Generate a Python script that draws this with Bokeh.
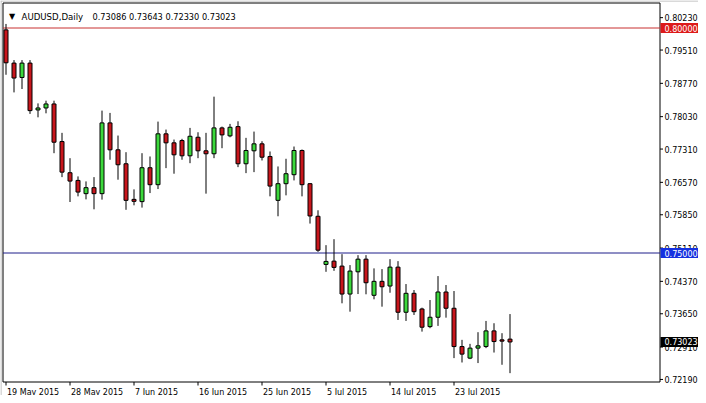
import pandas as pd
from bokeh.plotting import figure
from bokeh.models import Range1d, ColumnDataSource
from bokeh.core.properties import value
from bokeh.embed import file_html
from bokeh.resources import INLINE

symbol = "AUDUSD,Daily"

opens = [0.79958, 0.79220, 0.78901, 0.79220, 0.78179, 0.78223, 0.78312, 0.77477,
         0.76784, 0.76613, 0.76319, 0.76452, 0.76319, 0.77891, 0.77293, 0.76983,
         0.76192, 0.76142, 0.76895, 0.76518, 0.77648, 0.77448, 0.77499, 0.77160,
         0.77572, 0.77271, 0.77205, 0.77780, 0.77603, 0.77809, 0.76983, 0.77271,
         0.77426, 0.77145, 0.76170, 0.76540, 0.76740, 0.77278, 0.76540, 0.75816,
         0.74746, 0.74819, 0.74709, 0.74088, 0.74582, 0.74863, 0.74060, 0.74370,
         0.74266, 0.74686, 0.73683, 0.74104, 0.73756, 0.73364, 0.73572, 0.74133,
         0.73772, 0.72921, 0.72664, 0.72886, 0.72921, 0.73269, 0.73070, 0.73086]
highs = [0.80090, 0.79287, 0.79287, 0.79287, 0.78325, 0.78385, 0.78385, 0.77670,
         0.77107, 0.76702, 0.76591, 0.76686, 0.78164, 0.78113, 0.77610, 0.77240,
         0.76414, 0.77218, 0.77145, 0.77920, 0.77743, 0.77521, 0.77537, 0.77780,
         0.77683, 0.77670, 0.78474, 0.77809, 0.77869, 0.77927, 0.77559, 0.77698,
         0.77484, 0.77256, 0.76923, 0.77094, 0.77366, 0.77300, 0.76553, 0.75949,
         0.75174, 0.75307, 0.74974, 0.74731, 0.74952, 0.74952, 0.74658, 0.74642,
         0.74863, 0.74819, 0.74310, 0.74177, 0.73785, 0.73955, 0.74487, 0.74288,
         0.74155, 0.73070, 0.72981, 0.73240, 0.73490, 0.73439, 0.73218, 0.73643]
lows = [0.78961, 0.78569, 0.78644, 0.78091, 0.78015, 0.78104, 0.77218, 0.76686,
        0.76133, 0.76259, 0.76192, 0.75971, 0.76186, 0.77072, 0.76629, 0.75960,
        0.76060, 0.76009, 0.76332, 0.76421, 0.76886, 0.76762, 0.77072, 0.76996,
        0.77107, 0.76319, 0.77107, 0.77329, 0.77572, 0.76908, 0.76775, 0.76797,
        0.77056, 0.76259, 0.75816, 0.76281, 0.76613, 0.76259, 0.75654, 0.75025,
        0.74582, 0.74604, 0.73882, 0.73696, 0.74088, 0.74082, 0.73971, 0.73807,
        0.74117, 0.73512, 0.73490, 0.73623, 0.73253, 0.73329, 0.73380, 0.73563,
        0.72664, 0.72567, 0.72642, 0.72554, 0.72886, 0.72788, 0.72516, 0.72330]
closes = [0.79227, 0.78888, 0.79220, 0.78164, 0.78223, 0.78312, 0.77462, 0.76797,
          0.76598, 0.76354, 0.76452, 0.76319, 0.77891, 0.77293, 0.76961, 0.76170,
          0.76148, 0.76895, 0.76518, 0.77648, 0.77448, 0.77182, 0.77160, 0.77594,
          0.77271, 0.77205, 0.77780, 0.77625, 0.77794, 0.76983, 0.77278, 0.77426,
          0.77129, 0.76487, 0.76540, 0.76762, 0.77278, 0.76518, 0.75823, 0.75063,
          0.74813, 0.74680, 0.74088, 0.74598, 0.74863, 0.74339, 0.74370, 0.74250,
          0.74686, 0.73683, 0.74104, 0.73696, 0.73351, 0.73572, 0.74133, 0.73772,
          0.72921, 0.72753, 0.72886, 0.72937, 0.73269, 0.73032, 0.73041, 0.73023]

price_ticks = [0.80230, 0.79510, 0.78770, 0.78030, 0.77310, 0.76570,
               0.75850, 0.75110, 0.74370, 0.73650, 0.72910, 0.72190]
red_level = 0.80000
blue_level = 0.75000

# trading days (Sunday sessions included, Saturdays excluded)
all_days = pd.date_range("2015-05-19", "2015-07-31", freq="D")
dates = [d for d in all_days if d.weekday() != 5]
date_step = 8
tick_idx = list(range(0, len(dates), date_step))
tick_labels = [f"{dates[i].day} {dates[i].strftime('%b %Y')}" for i in tick_idx]

# ---- styling / layout constants ----
GREEN = "#3cd83c"
RED = "#c8161c"
FONT = value("DejaVu Sans")
FS = "8px"
W, H = 698, 395
BAR_PX = 8.0          # pixels per bar
PX_PER_UNIT = 4500.0  # pixels per price unit
X0 = -5.5 / BAR_PX                     # data x at the left canvas edge
YTOP = red_level + 27.5 / PX_PER_UNIT  # data y at the top canvas edge


def px2x(px):
    return X0 + px / BAR_PX


def py2y(py):
    return YTOP - py / PX_PER_UNIT


CH_L, CH_R, CH_T, CH_B = 2.5, 659.5, 2.5, 381.5  # chart box in pixels
LAB_X = 664.0

p = figure(width=W, height=H, x_range=Range1d(px2x(0), px2x(W)),
           y_range=Range1d(py2y(H), py2y(0)),
           output_backend="svg", toolbar_location=None, min_border=0,
           x_axis_location=None, y_axis_location=None,
           background_fill_color="white", border_fill_color="white",
           outline_line_color=None)
p.grid.visible = False

# window edge lines (light grey)
p.segment(x0=[px2x(0.5), px2x(0)], y0=[py2y(0), py2y(0.5)],
          x1=[px2x(0.5), px2x(W)], y1=[py2y(H), py2y(0.5)],
          line_color="#b4b4b4", line_width=1)

# chart box
p.quad(left=[px2x(CH_L)], right=[px2x(CH_R)], top=[py2y(CH_T)], bottom=[py2y(CH_B)],
       fill_color=None, line_color="black", line_width=1)

# horizontal level lines
p.segment(x0=[px2x(CH_L)] * 2, x1=[px2x(CH_R)] * 2, y0=[red_level, blue_level],
          y1=[red_level, blue_level], line_color=["#c83030", "#1e1e8a"], line_width=1)

# candles
idx = list(range(len(opens)))
src = ColumnDataSource(dict(
    x=idx,
    high=highs,
    low=lows,
    top=[max(o, c) for o, c in zip(opens, closes)],
    bottom=[min(o, c) for o, c in zip(opens, closes)],
    color=[GREEN if c >= o else RED for o, c in zip(opens, closes)],
))
p.segment(x0="x", y0="high", x1="x", y1="low", source=src, line_color="black", line_width=1)
p.vbar(x="x", width=4 / BAR_PX, top="top", bottom="bottom", source=src,
       fill_color="color", line_color="black", line_width=1)

# right price scale: tick marks + labels
n = len(price_ticks)
p.segment(x0=[px2x(CH_R)] * n, x1=[px2x(CH_R + 3)] * n,
          y0=price_ticks, y1=price_ticks, line_color="black", line_width=1)
p.text(x=[px2x(LAB_X)] * n, y=price_ticks,
       text=[f"{v:.5f}" for v in price_ticks], text_font=FONT,
       text_font_size=FS, text_color="black", text_align="left",
       text_baseline="middle")

# bottom time scale: tick marks + labels
m = len(tick_idx)
p.segment(x0=tick_idx, x1=tick_idx, y0=[py2y(CH_B)] * m,
          y1=[py2y(CH_B + 3.5)] * m, line_color="black", line_width=1)
p.text(x=tick_idx, y=[py2y(391.5)] * m, text=tick_labels, x_offset=1,
       text_font=FONT, text_font_size=FS, text_color="black",
       text_align="left", text_baseline="alphabetic")

# highlighted price boxes on the scale
box_levels = [red_level, blue_level, closes[-1]]
box_colors = ["#dd1a1a", "#1530e0", "black"]
p.rect(x=[px2x((CH_R + 0.5 + W) / 2)] * 3, y=box_levels, width=W - CH_R - 0.5, height=10,
       width_units="screen", height_units="screen",
       fill_color=box_colors, line_color=None)
p.text(x=[px2x(LAB_X)] * 3, y=box_levels, text=[f"{v:.5f}" for v in box_levels],
       text_font=FONT, text_font_size=FS, text_color="white",
       text_align="left", text_baseline="middle")

# title line
ohlc_text = f"{opens[-1]:.5f} {highs[-1]:.5f} {lows[-1]:.5f} {closes[-1]:.5f}"
p.text(x=[px2x(8.5)], y=[py2y(16)], text=["\u25bc"], text_font=FONT,
       text_font_size="8px", text_color="black", text_align="left",
       text_baseline="alphabetic")
p.text(x=[px2x(21)], y=[py2y(16)], text=[symbol], text_font=FONT,
       text_font_size="8.6px", text_color="black", text_align="left",
       text_baseline="alphabetic")
p.text(x=[px2x(92)], y=[py2y(16)], text=[ohlc_text], text_font=FONT,
       text_font_size="8.2px", text_color="black", text_align="left",
       text_baseline="alphabetic")

open("out.html", "w").write(file_html(p, INLINE))
